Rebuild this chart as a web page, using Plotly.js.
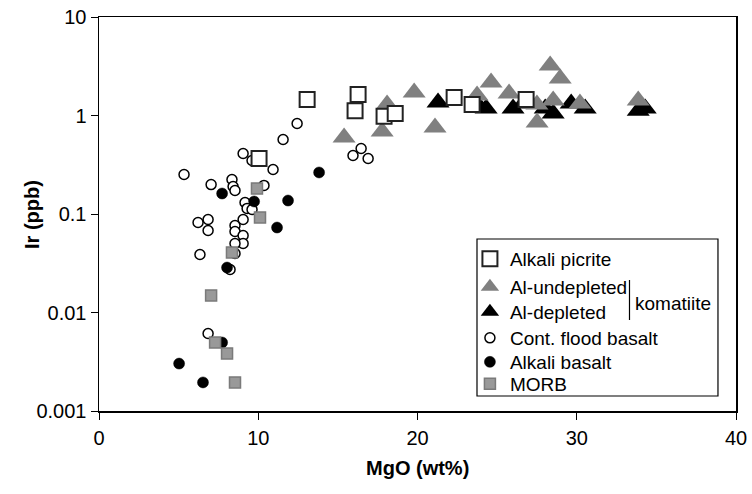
<!DOCTYPE html>
<html>
<head>
<meta charset="utf-8">
<script src="https://cdn.plot.ly/plotly-3.0.1.min.js"></script>
<style>
html,body{margin:0;padding:0;background:#fff;}
#chart{width:752px;height:494px;}
</style>
</head>
<body>
<div id="chart"></div>
<script>
// ---- Data (MgO wt%, Ir ppb) ----
var picriteMgO = [10.05, 13.07, 16.27, 16.08, 17.9, 18.6, 22.3, 23.43, 26.82];
var picriteIr  = [0.366, 1.45, 1.63, 1.12, 0.98, 1.05, 1.52, 1.29, 1.45];

var undepMgO = [15.39, 17.78, 18.09, 19.79, 21.1, 23.74, 24.62, 25.75, 28.33, 28.96, 28.52, 27.51, 27.5, 30.2, 33.86];
var undepIr  = [0.598, 0.688, 1.29, 1.71, 0.755, 1.6, 2.16, 1.67, 3.22, 2.38, 1.42, 0.85, 1.29, 1.32, 1.42];

var depMgO = [21.29, 23.93, 24.31, 26.0, 26.63, 28.02, 28.52, 29.65, 30.53, 33.86, 34.3];
var depIr  = [1.355, 1.206, 1.18, 1.18, 1.32, 1.18, 1.05, 1.32, 1.18, 1.12, 1.18];

var cfbMgO = [5.34, 7.04, 8.35, 8.42, 8.54, 9.05, 9.61, 10.36, 10.93, 11.56, 12.44, 9.17, 9.30, 9.61, 9.05,
              6.22, 6.85, 6.85, 8.54, 8.54, 9.05, 9.05, 8.54, 6.34, 8.54, 8.23, 6.85, 15.95, 16.46, 16.9];
var cfbIr  = [0.252, 0.199, 0.224, 0.190, 0.173, 0.411, 0.349, 0.195, 0.283, 0.571, 0.829, 0.131, 0.114, 0.111, 0.088,
              0.082, 0.088, 0.068, 0.0764, 0.0664, 0.0605, 0.0502, 0.0502, 0.0388, 0.0397, 0.0273, 0.00612, 0.393, 0.462, 0.366];

var abMgO = [7.73, 9.74, 11.18, 11.87, 13.82, 8.04, 7.73, 5.03, 6.53];
var abIr  = [0.1615, 0.134, 0.0729, 0.137, 0.264, 0.0286, 0.00496, 0.00303, 0.00195];

var morbMgO = [9.92, 10.11, 8.35, 7.04, 7.29, 8.04, 8.54];
var morbIr  = [0.1815, 0.0922, 0.0407, 0.0149, 0.00496, 0.00384, 0.00195];

var yTickVals = [0.001, 0.01, 0.1, 1, 10];
var yTickText = ["0.001", "0.01", "0.1", "1", "10"];
var xTickVals = [0, 10, 20, 30, 40];

var FONT = "Liberation Sans, Arial, sans-serif";
var LEG_FONT = {family: FONT, size: 19, color: "#000000"};

var traces = [
  {name: "Cont. flood basalt", x: cfbMgO, y: cfbIr, type: "scatter", mode: "markers", legend: "legend4",
   marker: {symbol: "circle", size: 10, color: "#ffffff", line: {color: "#000000", width: 1.5}}},
  {name: "Alkali basalt", x: abMgO, y: abIr, type: "scatter", mode: "markers", legend: "legend5",
   marker: {symbol: "circle", size: 11, color: "#000000", line: {color: "#000000", width: 0.5}}},
  {name: "MORB", x: morbMgO, y: morbIr, type: "scatter", mode: "markers", legend: "legend6",
   marker: {symbol: "square", size: 11, color: "#999999", line: {color: "#7a7a7a", width: 1.5}}},
  {name: "Al-depleted", x: depMgO, y: depIr, type: "scatter", mode: "markers", legend: "legend3",
   marker: {symbol: "triangle-up", size: 20, color: "#000000", line: {width: 0}}},
  {name: "Al-undepleted", x: undepMgO, y: undepIr, type: "scatter", mode: "markers", legend: "legend2",
   marker: {symbol: "triangle-up", size: 20, color: "#808080", line: {width: 0}}},
  {name: "Alkali picrite", x: picriteMgO, y: picriteIr, type: "scatter", mode: "markers", legend: "legend",
   marker: {symbol: "square", size: 15, color: "#ffffff", line: {color: "#222222", width: 2}}}
];

function leg(yPaper) {
  return {x: 0.5823, xanchor: "left", y: yPaper, yanchor: "middle",
          bgcolor: "rgba(0,0,0,0)", borderwidth: 0, font: LEG_FONT, itemclick: false};
}
// paper y = (411 - py) / 394
var layout = {
  width: 752, height: 494,
  margin: {l: 99, r: 16, t: 17, b: 83},
  paper_bgcolor: "#ffffff", plot_bgcolor: "#ffffff",
  font: {family: FONT, color: "#000000", size: 20},
  showlegend: true,
  legend:  leg((411 - 259) / 394),
  legend2: leg((411 - 287) / 394),
  legend3: leg((411 - 312) / 394),
  legend4: leg((411 - 338) / 394),
  legend5: leg((411 - 362) / 394),
  legend6: leg((411 - 384) / 394),
  xaxis: {
    range: [0, 40], tickvals: xTickVals, ticktext: xTickVals.map(String),
    showgrid: false, zeroline: false, showline: true, mirror: true,
    linecolor: "#000000", linewidth: 1.5,
    ticks: "outside", ticklen: 7, tickwidth: 1, tickcolor: "#000000",
    ticklabelstandoff: 1,
    tickfont: {family: FONT, size: 20},
    title: {text: ""}
  },
  yaxis: {
    type: "log", range: [-3, 1], tickvals: yTickVals, ticktext: yTickText,
    showgrid: false, zeroline: false, showline: true, mirror: true,
    linecolor: "#000000", linewidth: 1.5,
    ticks: "outside", ticklen: 7, tickwidth: 1, tickcolor: "#000000",
    tickfont: {family: FONT, size: 20},
    title: {text: ""}
  },
  shapes: [
    {type: "rect", xref: "paper", yref: "paper", x0: 0.5934, x1: 0.9717, y0: 0.0381, y1: 0.4365,
     line: {color: "#000000", width: 1.2}, fillcolor: "#ffffff", layer: "above"},
    {type: "line", xref: "paper", yref: "paper", x0: 0.8328, x1: 0.8328, y0: 0.2310, y1: 0.3325,
     line: {color: "#000000", width: 1.2}, layer: "above"}
  ],
  annotations: [
    {text: "komatiite", xref: "paper", yref: "paper", x: 0.8383, y: 0.2716,
     xanchor: "left", yanchor: "middle", showarrow: false,
     font: {family: FONT, size: 19, color: "#000000"}},
    {text: "<b>Ir (ppb)</b>", xref: "paper", yref: "paper", x: -0.1052, y: 0.5,
     xanchor: "center", yanchor: "middle", textangle: -90, showarrow: false,
     font: {family: FONT, size: 20, color: "#000000"}},
    {text: "<b>MgO (wt%)</b>", xref: "paper", yref: "paper", x: 0.5, y: -0.1447,
     xanchor: "center", yanchor: "middle", showarrow: false,
     font: {family: FONT, size: 20, color: "#000000"}}
  ]
};

Plotly.newPlot("chart", traces, layout, {displayModeBar: false, staticPlot: true});
</script>
</body>
</html>
